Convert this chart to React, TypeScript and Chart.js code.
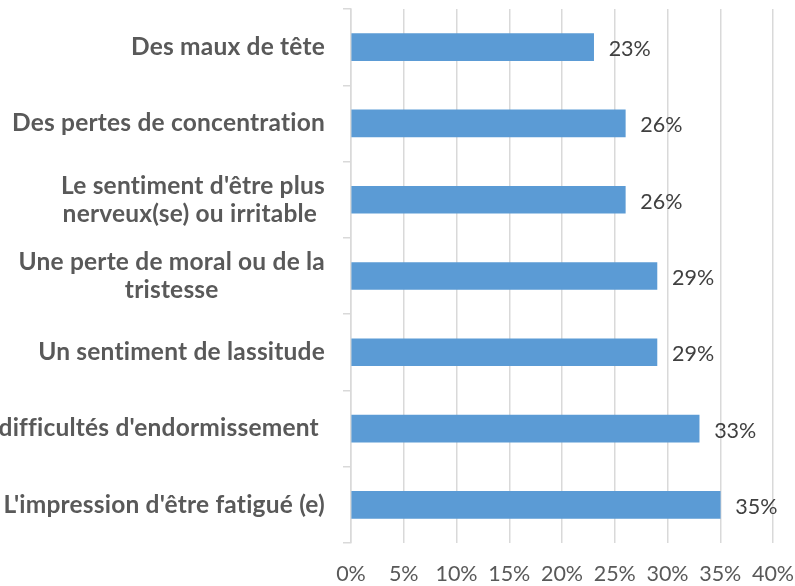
import React, { useEffect, useRef } from "react";
import { Chart, registerables } from "chart.js";

Chart.register(...registerables);

const categories: string[][] = [
  ["Des maux de tête"],
  ["Des pertes de concentration"],
  ["Le sentiment d'être plus", "nerveux(se) ou irritable "],
  ["Une perte de moral ou de la", "tristesse"],
  ["Un sentiment de lassitude"],
  ["Des difficultés d'endormissement "],
  ["L'impression d'être fatigué (e)"],
];
const values = [23, 26, 26, 29, 29, 33, 35];
const xMin = 0;
const xMax = 40;
const xStep = 5;

const FONT = "Lato, 'Open Sans', sans-serif";
const BAR = "#5B9BD5";
const GRID = "#d9d9d9";
const LABEL = "#595959";
const VALUE = "#404040";

const categoryLabelPlugin = {
  id: "categoryLabels",
  afterDraw(chart: any) {
    const ctx = chart.ctx;
    const y = chart.scales.y;
    const xRight = 325;
    const lineGap = 28;
    ctx.save();
    ctx.font = `bold 24.5px ${FONT}`;
    try {
      ctx.textRendering = "optimizeSpeed";
      ctx.letterSpacing = "0.2px";
    } catch (e) {}
    ctx.fillStyle = LABEL;
    ctx.textAlign = "center";
    ctx.textBaseline = "middle";
    categories.forEach((lines, i) => {
      const cy = y.getPixelForTick(i);
      const w = Math.max(...lines.map((l) => ctx.measureText(l).width));
      const cx = xRight - w / 2;
      lines.forEach((l, j) => {
        ctx.fillText(l, cx, cy + (j - (lines.length - 1) / 2) * lineGap);
      });
    });
    ctx.restore();
  },
};

const valueLabelPlugin = {
  id: "valueLabels",
  afterDatasetsDraw(chart: any) {
    const ctx = chart.ctx;
    const meta = chart.getDatasetMeta(0);
    ctx.save();
    ctx.font = `21.5px ${FONT}`;
    ctx.fillStyle = VALUE;
    ctx.textAlign = "left";
    ctx.textBaseline = "middle";
    meta.data.forEach((el: any, i: number) => {
      ctx.fillText(values[i] + "%", el.x + 15, el.y + 2);
    });
    ctx.restore();
  },
};

export default function App() {
  const ref = useRef<HTMLCanvasElement>(null);
  useEffect(() => {
    if (!ref.current) return;
    const chart = new Chart(ref.current, {
      type: "bar",
      data: {
        labels: categories.map((c) => c.join(" ")),
        datasets: [
          {
            data: values,
            backgroundColor: BAR,
            barThickness: 27,
          },
        ],
      },
      options: {
        indexAxis: "y",
        responsive: false,
        animation: false,
        layout: { padding: { top: 9, right: 22, left: 0, bottom: 0 } },
        plugins: {
          legend: { display: false },
          tooltip: { enabled: false },
        },
        scales: {
          x: {
            min: xMin,
            max: xMax,
            ticks: {
              stepSize: xStep,
              callback: (v: any) => v + "%",
              color: LABEL,
              font: { family: FONT, size: 21.5 },
              padding: 18,
            },
            grid: { color: GRID, lineWidth: 1.5, drawTicks: false },
            border: { display: false },
            afterFit: (s: any) => {
              s.height = 43;
              s.paddingLeft = 0;
              s.paddingRight = 0;
            },
          },
          y: {
            ticks: { display: false },
            grid: {
              offset: true,
              drawOnChartArea: false,
              drawTicks: true,
              tickLength: 8,
              color: GRID,
              lineWidth: 1.5,
            },
            border: { display: true, color: GRID, width: 1.5 },
            afterFit: (s: any) => {
              s.width = 351;
              s.paddingTop = 0;
              s.paddingBottom = 0;
            },
          },
        },
      },
      plugins: [categoryLabelPlugin, valueLabelPlugin],
    });
    return () => chart.destroy();
  }, []);
  return (
    <div style={{ position: "fixed", left: 0, top: 0, width: 795, height: 586, background: "#fff" }}>
      <canvas ref={ref} width={795} height={586} />
    </div>
  );
}
